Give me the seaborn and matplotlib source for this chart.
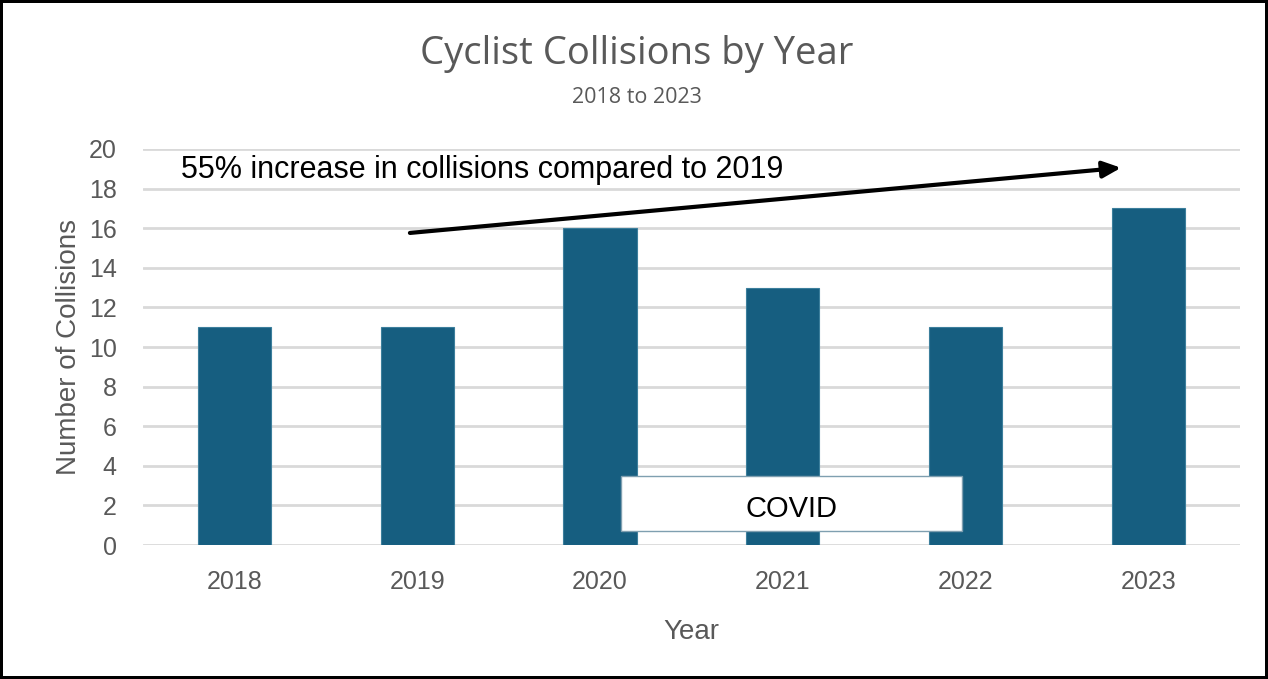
import pandas as pd
import seaborn as sns
import matplotlib.pyplot as plt
from matplotlib.patches import Rectangle

# ----------------------------- DATA ---------------------------------------------------------------------

years = ["2018", "2019", "2020", "2021", "2022", "2023"]
collisions = [11, 11, 16, 13, 11, 17]
y_ticks = [0, 2, 4, 6, 8, 10, 12, 14, 16, 18, 20]

title = "Cyclist Collisions by Year"
subtitle = "2018 to 2023"
note = "55% increase in collisions compared to 2019"
covid_label = "COVID"

df = pd.DataFrame({"Year": years, "Collisions": collisions})

# ----------------------------- STYLE --------------------------------------------------------------------

sns.set_style("white")
plt.rcParams["font.family"] = ["Liberation Sans", "DejaVu Sans"]

bar_color = "#165e80"
text_grey = "#595959"
grid_grey = "#d9d9d9"

fig = plt.figure(figsize=(12.68, 6.79), dpi=100, edgecolor="black", linewidth=3)
ax = fig.add_axes([0.1128, 0.1973, 0.865, 0.5833])

sns.barplot(data=df, x="Year", y="Collisions", color=bar_color, saturation=1,
            width=0.4, edgecolor="#3c7f9c", linewidth=0.8, ax=ax, zorder=3)

ax.set_ylim(0, 20)
ax.set_xlim(-0.5, len(years) - 0.5)
ax.set_yticks(y_ticks)
ax.yaxis.grid(True, color=grid_grey, linewidth=2, zorder=0)
ax.set_axisbelow(True)
sns.despine(ax=ax, left=True, bottom=True, top=True, right=True)
ax.tick_params(axis="both", length=0, labelsize=18, labelcolor=text_grey)
ax.tick_params(axis="x", pad=18)
ax.tick_params(axis="y", pad=19)

ax.set_xlabel("Year", fontsize=20, color=text_grey, labelpad=18)
ax.set_ylabel("Number of Collisions", fontsize=20, color=text_grey, labelpad=5)

# titles
fig.text(0.502, 0.920, title, ha="center", va="center", fontsize=27.5, color=text_grey,
         family=["Open Sans", "DejaVu Sans"])
fig.text(0.502, 0.857, subtitle, ha="center", va="center", fontsize=15.5, color=text_grey,
         family=["Open Sans", "DejaVu Sans"])

# trend arrow and note
ax.annotate("", xy=(4.85, 19.05), xytext=(0.96, 15.76),
            arrowprops=dict(arrowstyle="-|>,head_length=1.1,head_width=0.5",
                            color="black", lw=3, shrinkA=0, shrinkB=0), zorder=5)
ax.text(-0.29, 18.95, note, ha="left", va="center", fontsize=22, color="black")

# COVID box
ax.add_patch(Rectangle((2.115, 0.7), 1.865, 2.78, facecolor="white", edgecolor="#7f9fb0",
                       linewidth=1, zorder=6))
ax.text(3.05, 1.8, covid_label, ha="center", va="center", fontsize=21, color="black", zorder=7)

plt.savefig("out.png", dpi=100)
plt.close()
